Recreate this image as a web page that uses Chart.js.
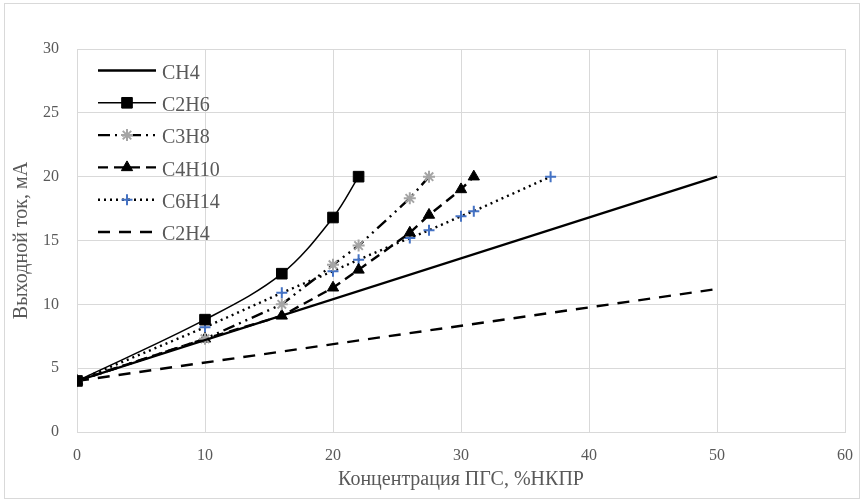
<!DOCTYPE html>
<html>
<head>
<meta charset="utf-8">
<script src="https://cdn.jsdelivr.net/npm/chart.js@4.4.1/dist/chart.umd.min.js"></script>
<style>
html,body{margin:0;padding:0;background:#fff;}
#wrap{width:863px;height:502px;position:relative;}
</style>
</head>
<body>
<div id="wrap"><canvas id="c" width="863" height="502"></canvas></div>
<script>
// ---- data ----
const seriesNames = ["CH4", "C2H6", "C3H8", "C4H10", "C6H14", "C2H4"];
const ch4X = [0, 50];
const ch4Y = [4, 20];
const c2h6X = [0, 10, 16, 20, 22];
const c2h6Y = [4, 8.8, 12.4, 16.8, 20];
const c3h8X = [0, 10, 16, 20, 22, 26, 27.5];
const c3h8Y = [4, 7.3, 10, 13.1, 14.6, 18.3, 20];
const c4h10X = [0, 10, 16, 20, 22, 26, 27.5, 30, 31];
const c4h10Y = [4, 7.3, 9.1, 11.3, 12.7, 15.6, 17, 19, 20];
const c6h14X = [0, 10, 16, 20, 22, 26, 27.5, 30, 31, 37];
const c6h14Y = [4, 8.2, 10.9, 12.6, 13.5, 15.2, 15.8, 16.9, 17.3, 20];
const c2h4X = [0, 50];
const c2h4Y = [4, 11.2];
const xTicks = [0, 10, 20, 30, 40, 50, 60];
const yTicks = [0, 5, 10, 15, 20, 25, 30];
const xTitle = "Концентрация ПГС, %НКПР";
const yTitle = "Выходной ток, мА";

function pts(xs, ys){ return xs.map((x,i)=>({x:x, y:ys[i]})); }

const GRAY = "#595959";
const FONT = "'Liberation Serif', 'Times New Roman', serif";

const datasets = [
  {label: seriesNames[0], data: pts(ch4X, ch4Y), borderColor:"#000", borderWidth:2.4, pointRadius:0, borderDash:[]},
  {label: seriesNames[1], data: pts(c2h6X, c2h6Y), borderColor:"#000", borderWidth:1.5, tension:0.35,
   pointStyle:'rect', pointRadius:7.5, pointBackgroundColor:"#000", pointBorderColor:"#000", pointBorderWidth:1, borderDash:[]},
  {label: seriesNames[2], data: pts(c3h8X, c3h8Y), borderColor:"#000", borderWidth:2.4, borderDash:[12,5,2,5,2,5],
   pointStyle:'star', pointRadius:6, pointBorderColor:"#a5a5a5", pointBackgroundColor:"#a5a5a5", pointBorderWidth:2},
  {label: seriesNames[3], data: pts(c4h10X, c4h10Y), borderColor:"#000", borderWidth:2.4, borderDash:[10,6],
   pointStyle:'triangle', pointRadius:6.5, pointBackgroundColor:"#000", pointBorderColor:"#000", pointBorderWidth:1},
  {label: seriesNames[4], data: pts(c6h14X, c6h14Y), borderColor:"#000", borderWidth:2.4, borderDash:[2,4],
   pointStyle:'cross', pointRadius:5.5, pointBorderColor:"#4472c4", pointBackgroundColor:"#4472c4", pointBorderWidth:2},
  {label: seriesNames[5], data: pts(c2h4X, c2h4Y), borderColor:"#000", borderWidth:2.4, pointRadius:0, borderDash:[12,9]}
];
datasets.forEach(d=>{ d.fill=false; d.showLine=true; d.borderCapStyle='butt'; });

function drawMarker(ctx, style, x, y, r, fill, stroke, bw){
  ctx.save();
  ctx.fillStyle = fill; ctx.strokeStyle = stroke; ctx.lineWidth = bw; ctx.setLineDash([]);
  ctx.beginPath();
  if (style === 'rect'){
    const s = r*Math.SQRT1_2*2;
    ctx.rect(x - s/2, y - s/2, s, s); ctx.fill(); ctx.stroke();
  } else if (style === 'triangle'){
    ctx.moveTo(x, y - r);
    ctx.lineTo(x + Math.sin(2*Math.PI/3)*r, y - Math.cos(2*Math.PI/3)*r);
    ctx.lineTo(x + Math.sin(4*Math.PI/3)*r, y - Math.cos(4*Math.PI/3)*r);
    ctx.closePath(); ctx.fill(); ctx.stroke();
  } else if (style === 'cross'){
    ctx.moveTo(x, y - r); ctx.lineTo(x, y + r);
    ctx.moveTo(x - r, y); ctx.lineTo(x + r, y); ctx.stroke();
  } else if (style === 'star'){
    ctx.moveTo(x, y - r); ctx.lineTo(x, y + r);
    ctx.moveTo(x - r, y); ctx.lineTo(x + r, y);
    const d = r*Math.SQRT1_2;
    ctx.moveTo(x - d, y - d); ctx.lineTo(x + d, y + d);
    ctx.moveTo(x - d, y + d); ctx.lineTo(x + d, y - d); ctx.stroke();
  }
  ctx.restore();
}

const legendPlugin = {
  id: 'customLegend',
  afterDraw(chart){
    const ctx = chart.ctx;
    const x0 = 98, x1 = 156, tx = 162, y0 = 70.5, dy = 32.3;
    chart.data.datasets.forEach((d, i) => {
      const y = y0 + i*dy;
      ctx.save();
      ctx.strokeStyle = d.borderColor; ctx.lineWidth = d.borderWidth;
      ctx.setLineDash(d.borderDash || []);
      ctx.lineCap = 'butt';
      ctx.beginPath(); ctx.moveTo(x0, y); ctx.lineTo(x1, y); ctx.stroke();
      ctx.restore();
      if (d.pointRadius > 0){
        drawMarker(ctx, d.pointStyle, (x0+x1)/2, y, d.pointRadius, d.pointBackgroundColor, d.pointBorderColor, d.pointBorderWidth);
      }
      ctx.save();
      ctx.fillStyle = GRAY; ctx.font = "20px " + FONT;
      ctx.textBaseline = 'middle'; ctx.textAlign = 'left';
      ctx.fillText(d.label, tx, y + 3);
      ctx.restore();
    });
  }
};

const borderPlugin = {
  id: 'outerBorder',
  beforeDraw(chart){
    const ctx = chart.ctx;
    ctx.save();
    ctx.fillStyle = '#fff'; ctx.fillRect(0,0,chart.width,chart.height);
    ctx.strokeStyle = '#d9d9d9'; ctx.lineWidth = 1;
    ctx.strokeRect(4.5, 3.5, 855, 495);
    ctx.restore();
  }
};

new Chart(document.getElementById('c'), {
  type: 'line',
  data: { datasets: datasets },
  options: {
    responsive: false,
    animation: false,
    devicePixelRatio: 1,
    layout: { padding: { left: 0, top: 49, right: 18, bottom: 0 } },
    plugins: { legend: { display: false }, tooltip: { enabled: false } },
    scales: {
      x: {
        type: 'linear', min: 0, max: 60,
        afterBuildTicks: (s) => { s.ticks = xTicks.map(v => ({value: v})); },
        afterFit: (s) => { s.height = 70; s.paddingLeft = 0; s.paddingRight = 0; },
        grid: { color: '#d9d9d9', lineWidth: 1, drawTicks: false },
        border: { color: '#d9d9d9', width: 1 },
        ticks: { color: GRAY, font: { family: FONT, size: 16 }, padding: 14, maxRotation: 0 },
        title: { display: true, text: xTitle, color: GRAY, font: { family: FONT, size: 20 }, padding: { top: 0, bottom: 10 } }
      },
      y: {
        type: 'linear', min: 0, max: 30,
        afterBuildTicks: (s) => { s.ticks = yTicks.map(v => ({value: v})); },
        afterFit: (s) => { s.width = 77; s.paddingTop = 0; s.paddingBottom = 0; },
        grid: { color: '#d9d9d9', lineWidth: 1, drawTicks: false },
        border: { color: '#d9d9d9', width: 1 },
        ticks: { color: GRAY, font: { family: FONT, size: 16 }, padding: 18 },
        title: { display: true, text: yTitle, color: GRAY, font: { family: FONT, size: 20 }, padding: { top: 10, bottom: 0 } }
      }
    }
  },
  plugins: [borderPlugin, legendPlugin]
});
</script>
</body>
</html>
